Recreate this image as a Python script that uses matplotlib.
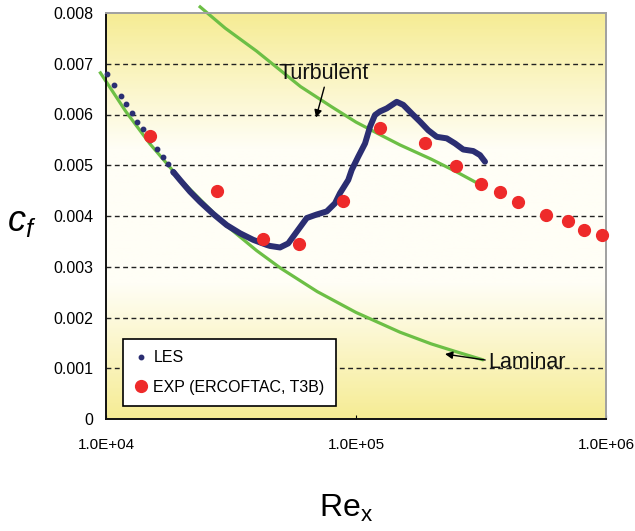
import numpy as np
import matplotlib
matplotlib.use("Agg")
import matplotlib.pyplot as plt
from matplotlib.colors import LinearSegmentedColormap

plt.rcParams['font.family'] = ['Liberation Sans', 'DejaVu Sans']
plt.rcParams['mathtext.fontset'] = 'custom'
plt.rcParams['mathtext.rm'] = 'Liberation Sans'
plt.rcParams['mathtext.it'] = 'Liberation Sans:italic'

# LES - sparse dots near the leading edge
les_dot_re = [1.006e4, 1.076e4, 1.146e4, 1.202e4, 1.268e4, 1.334e4, 1.403e4, 1.500e4,
              1.596e4, 1.687e4, 1.766e4, 1.858e4]
les_dot_cf = [0.00680, 0.00658, 0.00636, 0.00620, 0.00602, 0.00585, 0.00571, 0.00550,
              0.00533, 0.00516, 0.00502, 0.00487]
# LES - dense part (reads as a thick line)
les_line_re = [1.858e4, 1.977e4, 2.168e4, 2.377e4, 2.685e4, 3.041e4, 3.436e4, 3.882e4,
               4.395e4, 4.529e4, 4.966e4, 5.358e4, 5.794e4, 6.353e4, 6.966e4, 7.638e4,
               8.241e4, 8.630e4, 9.311e4, 9.616e4, 1.021e5, 1.087e5, 1.138e5, 1.191e5,
               1.247e5, 1.327e5, 1.455e5, 1.545e5, 1.671e5, 1.803e5, 1.945e5, 2.104e5,
               2.307e5, 2.489e5, 2.685e5, 2.944e5, 3.133e5, 3.281e5]
les_line_cf = [0.00487, 0.00471, 0.00448, 0.00428, 0.00404, 0.00382, 0.00366, 0.00353,
               0.00343, 0.00341, 0.00338, 0.00346, 0.00369, 0.00396, 0.00403, 0.00409,
               0.00425, 0.00445, 0.00471, 0.00491, 0.00517, 0.00543, 0.00576, 0.00599,
               0.00606, 0.00612, 0.00625, 0.00619, 0.00602, 0.00586, 0.00569, 0.00556,
               0.00553, 0.00543, 0.00531, 0.00528, 0.00520, 0.00507]

# Experiment (ERCOFTAC T3B)
exp_re = [1.50e4, 2.77e4, 4.26e4, 5.93e4, 8.90e4, 1.25e5, 1.89e5, 2.51e5, 3.16e5,
          3.77e5, 4.46e5, 5.74e5, 7.03e5, 8.17e5, 9.60e5]
exp_cf = [0.00558, 0.00449, 0.00355, 0.00344, 0.00430, 0.00574, 0.00544, 0.00499,
          0.00463, 0.00447, 0.00428, 0.00401, 0.00390, 0.00373, 0.00362]

# laminar and turbulent reference curves
lam_re = [9.5e3, 1.2e4, 1.5e4, 2.0e4, 3.0e4, 4.0e4, 5.0e4, 7.0e4, 1.0e5, 1.5e5,
          2.0e5, 2.5e5, 3.2e5]
lam_cf = [0.00682, 0.00606, 0.00542, 0.00470, 0.00383, 0.00332, 0.00297, 0.00251,
          0.00210, 0.00171, 0.00148, 0.00133, 0.00117]
turb_re = [2.38e4, 3.0e4, 4.0e4, 6.0e4, 8.0e4, 1.0e5, 1.25e5, 1.5e5, 2.0e5, 2.5e5, 3.05e5]
turb_cf = [0.00812, 0.00770, 0.00725, 0.00655, 0.00615, 0.00585, 0.00560, 0.00540,
           0.00512, 0.00488, 0.00465]

y_ticks = [0, 0.001, 0.002, 0.003, 0.004, 0.005, 0.006, 0.007, 0.008]
y_labels = ['0', '0.001', '0.002', '0.003', '0.004', '0.005', '0.006', '0.007', '0.008']
x_ticks = [1e4, 1e5, 1e6]
x_labels = ['1.0E+04', '1.0E+05', '1.0E+06']

navy = '#2b2e72'
red = '#ee2a2a'
green = '#6cbf45'

fig = plt.figure(figsize=(6.35, 5.31), dpi=100)
ax = fig.add_axes([106 / 635, 112 / 531, 500 / 635, 406 / 531])

# yellow - white - yellow background
cmap = LinearSegmentedColormap.from_list('bg', ['#f6ec94', '#fffef6', '#fffef6', '#f6ec94'],
                                         N=256)
grad = np.concatenate([np.linspace(0, 0.5, 128), np.linspace(0.5, 1, 128)])[:, None]
ax.imshow(grad, aspect='auto', cmap=cmap, extent=[0, 1, 0, 1], transform=ax.transAxes,
          zorder=0, origin='lower')

ax.set_xscale('log')
ax.set_xlim(1e4, 1e6)
ax.set_ylim(0, 0.008)

for yv in y_ticks[1:-1]:
    ax.axhline(yv, color='#222222', lw=1.0, ls=(0, (3.5, 2.5)), zorder=1)

ax.plot(lam_re, lam_cf, color=green, lw=2.3, zorder=2, clip_on=False)
ax.plot(turb_re, turb_cf, color=green, lw=2.3, zorder=2, clip_on=False)

ax.plot(les_line_re, les_line_cf, color=navy, lw=4.3, solid_capstyle='round',
        solid_joinstyle='round', zorder=3)
les_h, = ax.plot(les_dot_re, les_dot_cf, 'o', color=navy, ms=3.2, zorder=3, label='LES',
                 clip_on=False)
exp_h, = ax.plot(exp_re, exp_cf, 'o', color=red, ms=8.5, mec=red, zorder=4,
                 label='EXP (ERCOFTAC, T3B)', clip_on=False)

ax.annotate('Turbulent', xy=(6.92e4, 0.00594), xytext=(4.88e4, 0.00680),
            fontsize=15.5, va='center', ha='left', color='#111111',
            arrowprops=dict(arrowstyle='-|>', color='black', lw=1.0, mutation_scale=11,
                            shrinkA=0, shrinkB=0, relpos=(0.52, 0.0)))
ax.annotate('Laminar', xy=(2.27e5, 0.00128), xytext=(3.37e5, 0.00112),
            fontsize=15.5, va='center', ha='left', color='#111111',
            arrowprops=dict(arrowstyle='-|>', color='black', lw=1.0, mutation_scale=11,
                            shrinkA=0, shrinkB=0, relpos=(-0.03, 0.6)))

leg = ax.legend(handles=[les_h, exp_h], loc='lower left', bbox_to_anchor=(0.034, 0.032),
                frameon=True, fancybox=False, edgecolor='black', facecolor='white',
                framealpha=1.0, fontsize=11.5, handlelength=0.8, handletextpad=0.4,
                borderpad=0.7, labelspacing=0.9, borderaxespad=0)
leg.get_frame().set_linewidth(1.2)
leg.set_zorder(5)

ax.set_yticks(y_ticks)
ax.set_yticklabels(y_labels)
ax.set_xticks(x_ticks)
ax.set_xticklabels(x_labels)
ax.minorticks_off()
ax.tick_params(axis='y', length=0, pad=9, labelsize=11.5)
ax.tick_params(axis='x', direction='in', length=3, pad=14, labelsize=11)

for s in ['left', 'bottom']:
    ax.spines[s].set_color('#111111')
    ax.spines[s].set_linewidth(1.4)
for s in ['top', 'right']:
    ax.spines[s].set_color('#a0a0a0')
    ax.spines[s].set_linewidth(1.4)

fig.text(22 / 635, 1 - 222 / 531, r'$c_f$', fontsize=26, ha='center', va='center')
fig.text(346 / 635, 1 - 508 / 531, r'$\mathrm{Re}_\mathrm{x}$', fontsize=23,
         ha='center', va='center')

fig.savefig('out.png', dpi=100)
